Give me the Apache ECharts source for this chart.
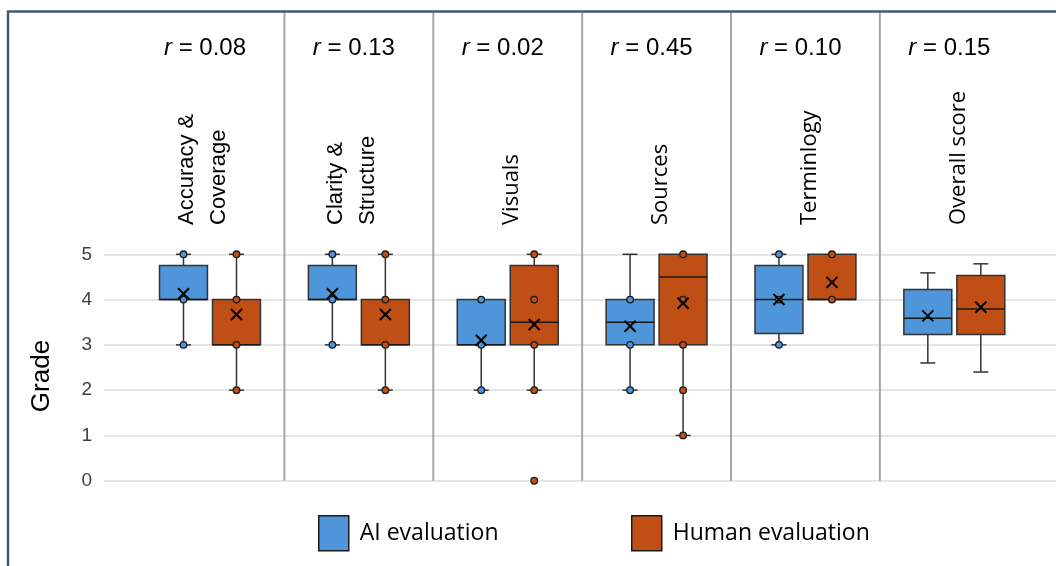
<!DOCTYPE html>
<html>
<head>
<meta charset="utf-8">
<script src="https://cdn.jsdelivr.net/npm/echarts@6/dist/echarts.min.js"></script>
<style>
html,body{margin:0;padding:0;background:#fff;}
#chart{width:1056px;height:566px;}
</style>
</head>
<body>
<div id="chart"></div>
<script>
// ---------- data ----------
const categories = ['Accuracy &\nCoverage', 'Clarity &\nStructure', 'Visuals', 'Sources', 'Terminlogy', 'Overall score'];
const rValues = ['0.08', '0.13', '0.02', '0.45', '0.10', '0.15'];
const seriesNames = ['AI evaluation', 'Human evaluation'];
// [min whisker, Q1, median, Q3, max whisker]
const aiBox = [[3, 4, 4, 4.75, 5], [3, 4, 4, 4.75, 5], [2, 3, 3, 4, 4], [2, 3, 3.5, 4, 5], [3, 3.25, 4, 4.75, 5], [2.6, 3.23, 3.59, 4.22, 4.59]];
const aiMean = [4.13, 4.13, 3.1, 3.41, 4.0, 3.64];
const aiPoints = [[3, 4, 5], [3, 4, 5], [2, 3, 4], [2, 3, 4], [3, 4, 5], []];
const humanBox = [[2, 3, 3, 4, 5], [2, 3, 3, 4, 5], [2, 3, 3.5, 4.75, 5], [1, 3, 4.5, 5, 5], [4, 4, 4, 5, 5], [2.4, 3.23, 3.79, 4.53, 4.79]];
const humanMean = [3.67, 3.67, 3.45, 3.92, 4.38, 3.83];
const humanPoints = [[2, 3, 4, 5], [2, 3, 4, 5], [0, 2, 3, 4, 5], [1, 2, 3, 4, 5], [4, 5], []];
// label font per category (style)
const labelFonts = ['"Liberation Sans", Arial', '"Liberation Sans", Arial', '"Open Sans"', '"Open Sans"', '"Open Sans"', '"Open Sans"'];

// ---------- styles ----------
const BLUE = '#4E95D9';
const ORANGE = '#C04F15';
const EDGE = '#333333';

function boxRenderer(offsetFrac, fill, boxes, means, points) {
  return function (params, api) {
    const i = api.value(0);
    const unit = api.size([1, 0])[0];
    const cx = api.coord([i, 0])[0] + offsetFrac * unit;
    const w = 0.322 * unit;
    const y = v => api.coord([i, v])[1];
    const [mn, q1, md, q3, mx] = boxes[i];
    const ch = [];
    const capW = 15;
    const lineStyle = { stroke: EDGE, lineWidth: 1.5 };
    if (mx > q3) {
      ch.push({ type: 'line', shape: { x1: cx, y1: y(q3), x2: cx, y2: y(mx) }, style: lineStyle });
      ch.push({ type: 'line', shape: { x1: cx - capW / 2, y1: y(mx), x2: cx + capW / 2, y2: y(mx) }, style: lineStyle });
    }
    if (mn < q1) {
      ch.push({ type: 'line', shape: { x1: cx, y1: y(q1), x2: cx, y2: y(mn) }, style: lineStyle });
      ch.push({ type: 'line', shape: { x1: cx - capW / 2, y1: y(mn), x2: cx + capW / 2, y2: y(mn) }, style: lineStyle });
    }
    ch.push({ type: 'rect', shape: { x: cx - w / 2, y: y(q3), width: w, height: y(q1) - y(q3) }, style: { fill: fill, stroke: EDGE, lineWidth: 1.5 } });
    ch.push({ type: 'line', shape: { x1: cx - w / 2, y1: y(md), x2: cx + w / 2, y2: y(md) }, style: { stroke: '#1a1a1a', lineWidth: 1.5 } });
    points[i].forEach(p => {
      ch.push({ type: 'circle', shape: { cx: cx, cy: y(p), r: 3.3 }, style: { fill: fill, stroke: '#1a1a1a', lineWidth: 1.3 } });
    });
    const my = y(means[i]);
    const s = 5.5;
    ch.push({ type: 'line', shape: { x1: cx - s, y1: my - s, x2: cx + s, y2: my + s }, style: { stroke: '#000', lineWidth: 2 } });
    ch.push({ type: 'line', shape: { x1: cx - s, y1: my + s, x2: cx + s, y2: my - s }, style: { stroke: '#000', lineWidth: 2 } });
    return { type: 'group', children: ch };
  };
}

function labelRenderer(params, api) {
  const i = api.value(0);
  const p0 = api.coord([i, 0]);
  const cx = p0[0];
  const ch = [];
  if (i < categories.length - 1) {
    const sx = api.coord([i + 0.5, 0])[0];
    ch.push({ type: 'line', shape: { x1: sx, y1: 12, x2: sx, y2: p0[1] }, style: { stroke: '#a6a6a6', lineWidth: 2 } });
  }
  ch.push({
    type: 'text', x: cx - 5, y: 48,
    style: {
      text: '{it|r} = ' + rValues[i],
      rich: { it: { fontStyle: 'italic', fontSize: 24, fontFamily: '"Liberation Sans", Arial', fill: '#000' } },
      fontSize: 24, fontFamily: '"Liberation Sans", Arial', fill: '#000',
      align: 'center', verticalAlign: 'middle'
    }
  });
  const multi = categories[i].indexOf('\n') >= 0;
  ch.push({
    type: 'text', x: cx + (multi ? -7 : 4), y: 225, rotation: Math.PI / 2,
    style: {
      text: categories[i], fontSize: 22, fontFamily: labelFonts[i], fill: '#000',
      lineHeight: 32, align: 'left', verticalAlign: 'middle'
    }
  });
  return { type: 'group', children: ch };
}

const chart = echarts.init(document.getElementById('chart'), null, { renderer: 'canvas' });
const idx = categories.map((c, i) => [i]);

const legendBase = {
  icon: 'rect', itemWidth: 30, itemHeight: 35, selectedMode: false, top: 515, padding: 0,
  itemStyle: { borderColor: '#1a1a1a', borderWidth: 1.5 },
  textStyle: { fontFamily: '"Open Sans"', fontSize: 23, color: '#000', padding: [0, 0, 0, 6] }
};

chart.setOption({
  animation: false,
  backgroundColor: '#fff',
  color: [BLUE, ORANGE],
  grid: { left: 104, right: 0, top: 254.3, bottom: 85.3 },
  xAxis: { type: 'value', min: -0.712, max: 5.683, show: false },
  yAxis: {
    type: 'value', min: 0, max: 5, interval: 1,
    axisLine: { show: false }, axisTick: { show: false },
    axisLabel: { color: '#404040', fontSize: 19, fontFamily: '"Liberation Sans", Arial', margin: 12 },
    splitLine: { lineStyle: { color: '#dcdcdc', width: 1.5 } }
  },
  legend: [
    Object.assign({}, legendBase, { data: [seriesNames[0]], left: 318 }),
    Object.assign({}, legendBase, { data: [seriesNames[1]], left: 631 })
  ],
  graphic: [
    { type: 'line', shape: { x1: 7, y1: 11.5, x2: 1056, y2: 11.5 }, style: { stroke: '#3f5c72', lineWidth: 2.5 }, z: 10 },
    { type: 'line', shape: { x1: 8, y1: 11, x2: 8, y2: 566 }, style: { stroke: '#3f5c72', lineWidth: 2.5 }, z: 10 },
    { type: 'text', x: 42, y: 376, rotation: Math.PI / 2, style: { text: 'Grade', fontSize: 26, fontFamily: '"Liberation Sans", Arial', fill: '#000', align: 'center', verticalAlign: 'middle' } }
  ],
  series: [
    { type: 'custom', name: 'labels', silent: true, data: idx, encode: { x: 0 }, renderItem: labelRenderer, z: 1 },
    { type: 'custom', name: seriesNames[0], itemStyle: { color: BLUE }, data: idx.map((d, i) => [i].concat(aiBox[i], [aiMean[i]])), encode: { x: 0, y: [1, 2, 3, 4, 5, 6] }, renderItem: boxRenderer(-0.178, BLUE, aiBox, aiMean, aiPoints), z: 3 },
    { type: 'custom', name: seriesNames[1], itemStyle: { color: ORANGE }, data: idx.map((d, i) => [i].concat(humanBox[i], [humanMean[i]])), encode: { x: 0, y: [1, 2, 3, 4, 5, 6] }, renderItem: boxRenderer(0.178, ORANGE, humanBox, humanMean, humanPoints), z: 3 }
  ]
});
</script>
</body>
</html>
